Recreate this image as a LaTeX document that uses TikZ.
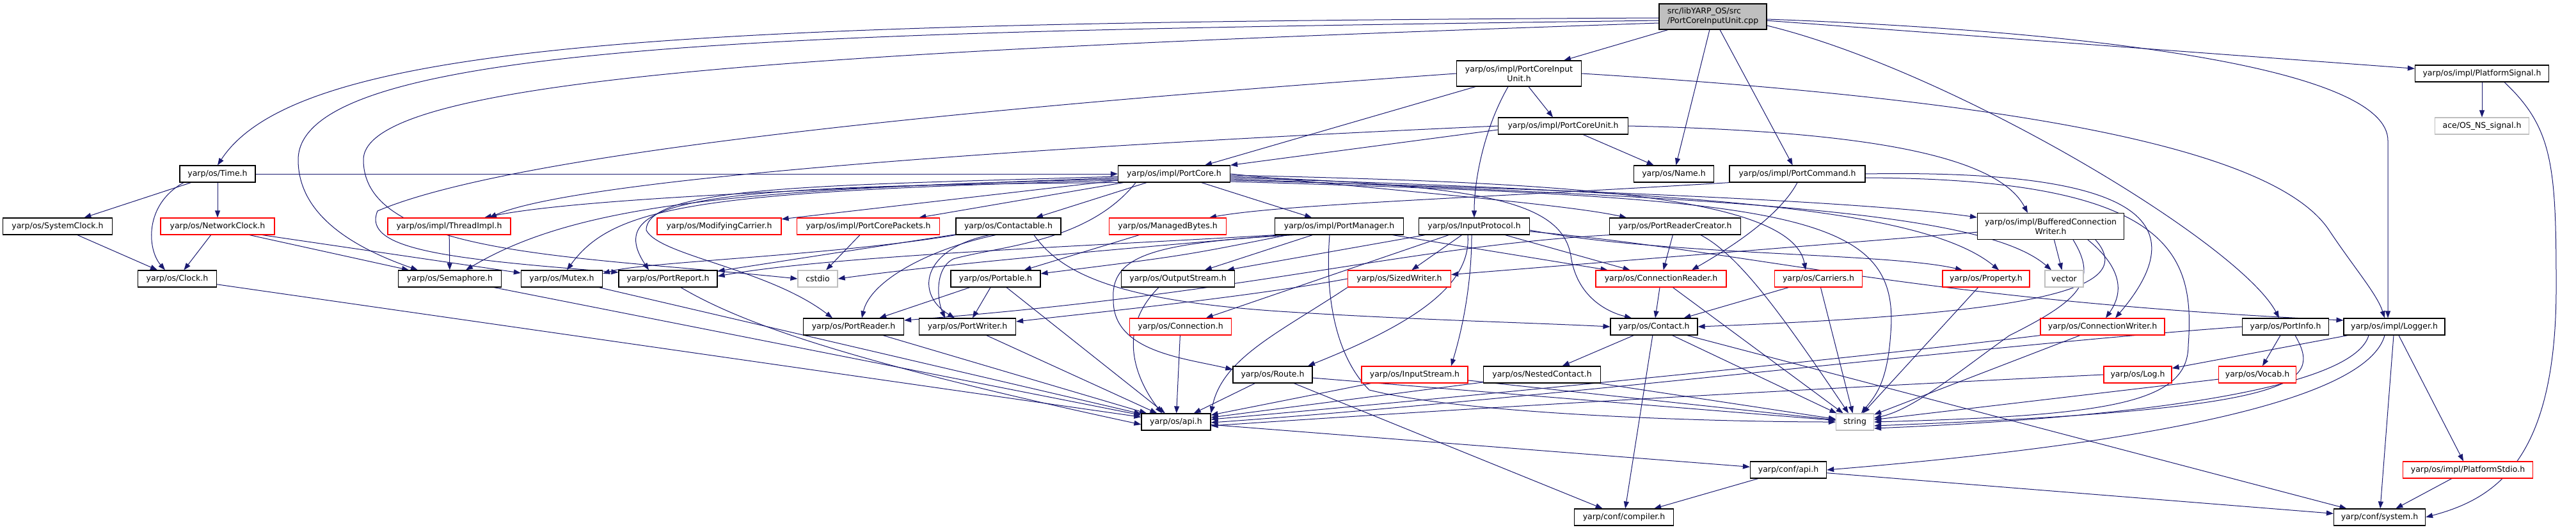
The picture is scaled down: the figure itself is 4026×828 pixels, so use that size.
\documentclass[tikz,border=0pt]{standalone}
\usepackage{fontspec}
\setmainfont{DejaVu Sans}
\usetikzlibrary{arrows.meta}
\definecolor{depblue}{RGB}{25,25,112}
\definecolor{truncred}{RGB}{255,0,0}
\definecolor{sysgray}{RGB}{191,191,191}
\pgfdeclarelayer{edges}
\pgfsetlayers{edges,main}

\begin{document}
\begin{tikzpicture}[x=1pt, y=-1pt,
    hdr/.style={draw=black, line width=1.2pt, fill=white, minimum height=26pt,
      inner xsep=0pt, inner ysep=1pt, font=\fontsize{12.5}{15}\selectfont},
    trunc/.style={hdr, draw=truncred},
    sys/.style={hdr, draw=sysgray},
    root/.style={hdr, fill=sysgray},
    dep/.style={draw=depblue, line width=1pt, -{Triangle[length=11pt,width=8pt]}}]
    \useasboundingbox (0,0) rectangle (4026,828);

    % the file itself
    \node[root, minimum width=168pt, minimum height=40pt, align=left] (cpp) at (2677,26) {src/libYARP\_OS/src\\/PortCoreInputUnit.cpp};

    % upper rows
    \node[hdr, minimum width=195pt, minimum height=40pt, align=center] (pciu) at (2374,115) {yarp/os/impl/PortCoreInput\\Unit.h};
    \node[hdr, minimum width=209pt] (psig) at (3879,115) {yarp/os/impl/PlatformSignal.h};
    \node[hdr, minimum width=203pt] (pcunit) at (2443,197) {yarp/os/impl/PortCoreUnit.h};
    \node[sys, minimum width=147pt] (ace) at (3879,197) {ace/OS\_NS\_signal.h};
    \node[hdr, minimum width=118pt] (time) at (340,272) {yarp/os/Time.h};
    \node[hdr, minimum width=175pt] (pcore) at (1835,272) {yarp/os/impl/PortCore.h};
    \node[hdr, minimum width=125pt] (name) at (2616,272) {yarp/os/Name.h};
    \node[hdr, minimum width=212pt] (pcmd) at (2809,272) {yarp/os/impl/PortCommand.h};

    % row of the direct PortCore includes
    \node[hdr, minimum width=171pt] (sysclk) at (90,354) {yarp/os/SystemClock.h};
    \node[trunc, minimum width=178pt] (netclk) at (340,354) {yarp/os/NetworkClock.h};
    \node[trunc, minimum width=192pt] (thread) at (702,354) {yarp/os/impl/ThreadImpl.h};
    \node[trunc, minimum width=194pt] (modcar) at (1124,354) {yarp/os/ModifyingCarrier.h};
    \node[trunc, minimum width=223pt] (packets) at (1357,354) {yarp/os/impl/PortCorePackets.h};
    \node[hdr, minimum width=164pt] (cable) at (1576,354) {yarp/os/Contactable.h};
    \node[trunc, minimum width=183pt] (mbytes) at (1825,354) {yarp/os/ManagedBytes.h};
    \node[hdr, minimum width=201pt] (pmgr) at (2093,354) {yarp/os/impl/PortManager.h};
    \node[hdr, minimum width=173pt] (inproto) at (2304,354) {yarp/os/InputProtocol.h};
    \node[hdr, minimum width=205pt] (prc) at (2618,354) {yarp/os/PortReaderCreator.h};
    \node[hdr, minimum width=229pt, minimum height=41pt, align=center] (bcw) at (3205,354) {yarp/os/impl/BufferedConnection\\Writer.h};

    \node[hdr, minimum width=123pt] (clock) at (277,436) {yarp/os/Clock.h};
    \node[hdr, minimum width=161pt] (sema) at (703,436) {yarp/os/Semaphore.h};
    \node[hdr, minimum width=127pt] (mutex) at (878,436) {yarp/os/Mutex.h};
    \node[hdr, minimum width=154pt] (preport) at (1044,436) {yarp/os/PortReport.h};
    \node[sys, minimum width=62pt] (cstdio) at (1278,436) {cstdio};
    \node[hdr, minimum width=140pt] (portable) at (1556,436) {yarp/os/Portable.h};
    \node[hdr, minimum width=177pt] (ostream) at (1841,436) {yarp/os/OutputStream.h};
    \node[trunc, minimum width=161pt] (swriter) at (2187,436) {yarp/os/SizedWriter.h};
    \node[trunc, minimum width=204pt] (creader) at (2596,436) {yarp/os/ConnectionReader.h};
    \node[trunc, minimum width=137pt] (carriers) at (2842,436) {yarp/os/Carriers.h};
    \node[trunc, minimum width=136pt] (prop) at (3104,436) {yarp/os/Property.h};
    \node[sys, minimum width=60pt] (vector) at (3226,436) {vector};

    \node[hdr, minimum width=157pt] (preader) at (1334,511) {yarp/os/PortReader.h};
    \node[hdr, minimum width=151pt] (pwriter) at (1512,511) {yarp/os/PortWriter.h};
    \node[trunc, minimum width=159pt] (conn) at (1845,511) {yarp/os/Connection.h};
    \node[hdr, minimum width=136pt] (contact) at (2585,511) {yarp/os/Contact.h};
    \node[trunc, minimum width=194pt] (cwriter) at (3286,511) {yarp/os/ConnectionWriter.h};
    \node[hdr, minimum width=135pt] (pinfo) at (3572,511) {yarp/os/PortInfo.h};
    \node[hdr, minimum width=158pt] (logger) at (3742,511) {yarp/os/impl/Logger.h};

    \node[hdr, minimum width=124pt] (route) at (1989,586) {yarp/os/Route.h};
    \node[trunc, minimum width=166pt] (istream) at (2211,586) {yarp/os/InputStream.h};
    \node[hdr, minimum width=183pt] (nested) at (2410,586) {yarp/os/NestedContact.h};
    \node[trunc, minimum width=106pt] (log) at (3341,586) {yarp/os/Log.h};
    \node[trunc, minimum width=121pt] (vocab) at (3528,586) {yarp/os/Vocab.h};

    % bottom rows
    \node[hdr, minimum width=108pt] (api) at (1838,660) {yarp/os/api.h};
    \node[sys, minimum width=59pt] (string) at (2899,660) {string};
    \node[hdr, minimum width=119pt] (capi) at (2795,735) {yarp/conf/api.h};
    \node[trunc, minimum width=203pt] (pstdio) at (3857,735) {yarp/os/impl/PlatformStdio.h};
    \node[hdr, minimum width=155pt] (compiler) at (2538,809) {yarp/conf/compiler.h};
    \node[hdr, minimum width=143pt] (system) at (3719,809) {yarp/conf/system.h};

    \begin{pgfonlayer}{edges}
    % plain includes
    \foreach \a/\b in {cpp/pciu, cpp/name, cpp/pcmd, cpp/psig, psig/ace, time/sysclk, time/netclk, time/pcore,
        sysclk/clock, netclk/clock, thread/sema, pcunit/name, pcore/modcar, pcore/packets, pcore/cable,
        pcore/pmgr, packets/cstdio, mbytes/portable, cable/preport, pmgr/ostream, pmgr/creader,
        inproto/swriter, inproto/ostream, inproto/conn, inproto/creader, prc/creader, bcw/vector,
        bcw/swriter, portable/preader, portable/pwriter, portable/api, creader/contact, creader/string,
        carriers/contact, carriers/string, prop/string, cwriter/string, vocab/string, pinfo/vocab,
        preader/api, pwriter/api, conn/api, route/api, istream/api, nested/api, clock/api, sema/api,
        mutex/api, contact/nested, contact/string, contact/compiler, contact/system, route/string,
        route/compiler, istream/string, nested/string, logger/log, logger/pstdio, logger/system,
        api/capi, capi/compiler, capi/system, pstdio/system} {
        \draw[dep] (\a) -- (\b);
    }

    % the file, long ways round
    \draw[dep] ([yshift=-2pt]cpp.west) .. controls (1100,35) and (470,60) .. (time.north);
    \draw[dep] ([yshift=-6pt]cpp.west) .. controls (1300,50) and (466,60) .. (466,250) .. controls (466,340) and (560,390) .. ([xshift=-50pt]sema.north);
    \draw[dep] ([yshift=-10pt]cpp.west) .. controls (1300,80) and (568,120) .. (568,250) .. controls (568,400) and (900,400) .. (cstdio.west);
    \draw[dep] ([yshift=-4pt]cpp.east) .. controls (3300,50) and (3732,110) .. (3732,220) -- ([xshift=-10pt]logger.north);
    \draw[dep] ([yshift=-14pt]cpp.east) .. controls (3050,110) and (3500,380) .. ([xshift=-10pt]pinfo.north);

    % PortCoreInputUnit.h
    \draw[dep] ([xshift=-68pt]pciu.south) -- ([xshift=48pt]pcore.north);
    \draw[dep] ([xshift=15pt]pciu.south) -- ([xshift=-16pt]pcunit.north);
    \draw[dep] ([xshift=-17pt]pciu.south) .. controls (2320,200) and (2304,280) .. (inproto.north);
    \draw[dep] (pciu.west) .. controls (1500,170) and (800,240) .. (590,330) .. controls (565,390) and (700,405) .. ([yshift=10pt]preport.west);
    \draw[dep] (pciu.east) .. controls (3200,160) and (3560,240) .. (3640,360) .. controls (3680,420) and (3715,460) .. ([xshift=-15pt]logger.north);

    % PortCoreUnit.h
    \draw[dep] ([yshift=-6pt]pcunit.west) -- (pcore.north east);
    \draw[dep] (pcunit.west) .. controls (1600,230) and (900,280) .. ([xshift=63pt]thread.north);
    \draw[dep] (pcunit.east) .. controls (2900,205) and (3120,240) .. ([xshift=-36pt]bcw.north);

    % Time.h and the clocks
    \draw[dep] ([xshift=-53pt]time.south) .. controls (225,320) and (230,390) .. ([xshift=-19pt]clock.north);
    \draw[dep] ([xshift=50pt]netclk.south) -- ([xshift=-64pt]sema.north);
    \draw[dep] ([xshift=70pt]netclk.south) -- ([yshift=9pt]mutex.west);

    % PortCore.h, to the left
    \draw[dep] ([yshift=-6pt]pcore.west) .. controls (1300,295) and (900,310) .. ([xshift=55pt]thread.north);
    \draw[dep] ([yshift=-8pt]pcore.west) .. controls (1150,295) and (900,320) .. ([xshift=25pt]sema.north);
    \draw[dep] ([yshift=-10pt]pcore.west) .. controls (1100,300) and (960,320) .. ([xshift=8pt]mutex.north);
    \draw[dep] (pcore.south west) .. controls (1100,290) and (940,310) .. ([xshift=-30pt]preport.north);
    \draw[dep] ([yshift=-4pt]pcore.west) .. controls (1300,290) and (1010,290) .. (1010,360) .. controls (1030,400) and (1200,420) .. ([xshift=-33pt]preader.north);
    \draw[dep] ([xshift=-60pt]pcore.south) .. controls (1700,380) and (1560,385) .. (1490,405) .. controls (1460,420) and (1465,470) .. ([xshift=-35pt]pwriter.north);

    % PortCore.h, to the right
    \draw[dep] (pcore.east) .. controls (2200,300) and (2450,320) .. ([xshift=-76pt]prc.north);
    \draw[dep] ([yshift=-2pt]pcore.east) .. controls (2400,285) and (2800,300) .. ([xshift=-20pt]carriers.north);
    \draw[dep] ([yshift=-4pt]pcore.east) .. controls (2300,290) and (2440,310) .. (2455,400) .. controls (2465,470) and (2520,490) .. ([xshift=-35pt]contact.north);
    \draw[dep] ([yshift=-6pt]pcore.east) .. controls (2600,300) and (3000,320) .. ([xshift=20pt]prop.north);
    \draw[dep] ([yshift=-8pt]pcore.east) .. controls (2700,310) and (3100,330) .. ([xshift=-20pt]vector.north);
    \draw[dep] ([yshift=-10pt]pcore.east) .. controls (2600,300) and (2950,320) .. ([yshift=14pt]bcw.west);
    \draw[dep] ([yshift=-12pt]pcore.east) .. controls (2800,310) and (2970,330) .. (2955,520) .. controls (2950,600) and (2930,620) .. ([xshift=10pt]string.north);

    % PortCommand.h
    \draw[dep] (pcmd.south) .. controls (2780,340) and (2700,390) .. ([xshift=48pt]creader.north);
    \draw[dep] (pcmd.south west) .. controls (2300,310) and (2000,320) .. ([xshift=65pt]mbytes.north);
    \draw[dep] (pcmd.east) .. controls (3330,265) and (3440,340) .. ([xshift=20pt]cwriter.north);
    \draw[dep] ([yshift=-6pt]pcmd.east) .. controls (3400,280) and (3430,400) .. (3420,540) .. controls (3420,630) and (3300,650) .. (string.east);

    % BufferedConnectionWriter.h
    \draw[dep] ([xshift=58pt]bcw.south) .. controls (3330,430) and (3310,470) .. ([xshift=5pt]cwriter.north);
    \draw[dep] ([xshift=70pt]bcw.south) .. controls (3340,450) and (3200,490) .. (contact.east);
    \draw[dep] ([xshift=35pt]bcw.south) .. controls (3280,440) and (3250,470) .. (3140,525) .. controls (3050,590) and (2990,640) .. ([yshift=6pt]string.east);

    % PortManager.h
    \draw[dep] (pmgr.south west) .. controls (1700,385) and (1300,400) .. ([yshift=4pt]preport.east);
    \draw[dep] ([xshift=10pt]pmgr.south west) .. controls (1750,390) and (1500,410) .. (cstdio.east);
    \draw[dep] ([xshift=20pt]pmgr.south west) .. controls (1850,400) .. ([yshift=8pt]portable.east);
    \draw[dep] ([xshift=30pt]pmgr.south west) .. controls (1800,380) and (1735,400) .. (1740,470) .. controls (1740,550) and (1850,560) .. ([yshift=8pt]route.west);
    \draw[dep] ([xshift=-15pt]pmgr.south) .. controls (2070,470) and (2090,560) .. (2140,610) .. controls (2300,650) and (2700,660) .. (string.west);

    % InputProtocol.h
    \draw[dep] ([xshift=-4pt]inproto.south) .. controls (2300,430) and (2290,500) .. ([xshift=57pt]istream.north);
    \draw[dep] ([xshift=-10pt]inproto.south) .. controls (2300,450) and (2200,510) .. ([xshift=55pt]route.north);
    \draw[dep] ([yshift=-6pt]inproto.east) .. controls (2600,400) and (2950,395) .. ([xshift=-37pt]prop.north);
    \draw[dep] ([yshift=-8pt]inproto.east) .. controls (2750,395) and (3000,470) .. ([yshift=10pt]logger.west);

    % PortReaderCreator.h, SizedWriter.h, OutputStream.h
    \draw[dep] (prc.south west) .. controls (2200,385) and (1950,460) .. ([yshift=10pt]preader.east);
    \draw[dep] ([xshift=40pt]prc.south) .. controls (2720,400) and (2790,500) .. ([xshift=-10pt]string.north);
    \draw[dep] (swriter.west) .. controls (1950,465) and (1700,490) .. ([yshift=8pt]pwriter.east);
    \draw[dep] (swriter.south west) .. controls (2000,520) and (1910,560) .. (api.north east);
    \draw[dep] ([xshift=-30pt]ostream.south) .. controls (1740,520) and (1780,600) .. ([xshift=-22pt]api.north);

    % Contactable.h
    \draw[dep] ([xshift=40pt]cable.south) .. controls (1660,430) and (1750,470) .. (2000,487) .. controls (2200,500) and (2400,505) .. (contact.west);
    \draw[dep] (cable.south west) .. controls (1300,400) and (1000,410) .. ([yshift=8pt]mutex.east);
    \draw[dep] ([xshift=-20pt]cable.south) .. controls (1450,390) and (1360,440) .. ([xshift=13pt]preader.north);
    \draw[dep] ([xshift=-30pt]cable.south) .. controls (1440,390) and (1430,460) .. ([xshift=-20pt]pwriter.north);

    % down to api.h and string
    \draw[dep] ([xshift=20pt]preport.south) .. controls (1150,500) and (1300,560) .. ([yshift=-4pt]api.west);
    \draw[dep] (cwriter.south west) .. controls (2900,560) and (2300,620) .. ([yshift=4pt]api.east);
    \draw[dep] (pinfo.west) .. controls (3100,540) and (2400,625) .. ([yshift=-1pt]api.east);
    \draw[dep] (log.west) .. controls (3000,600) and (2500,625) .. ([yshift=-6pt]api.east);
    \draw[dep] ([xshift=15pt]pinfo.south) .. controls (3630,600) and (3600,640) .. ([yshift=-6pt]string.east);
    \draw[dep] ([xshift=-40pt]logger.south) .. controls (3680,600) and (3400,650) .. ([yshift=-10pt]string.east);
    \draw[dep] ([xshift=-15pt]logger.south) .. controls (3700,620) and (3400,690) .. (capi.east);
    \draw[dep] ([xshift=35pt]psig.south) .. controls (3990,200) and (3995,260) .. (3995,450) .. controls (3995,720) and (3900,780) .. (system.east);
    \end{pgfonlayer}
\end{tikzpicture}
\end{document}
